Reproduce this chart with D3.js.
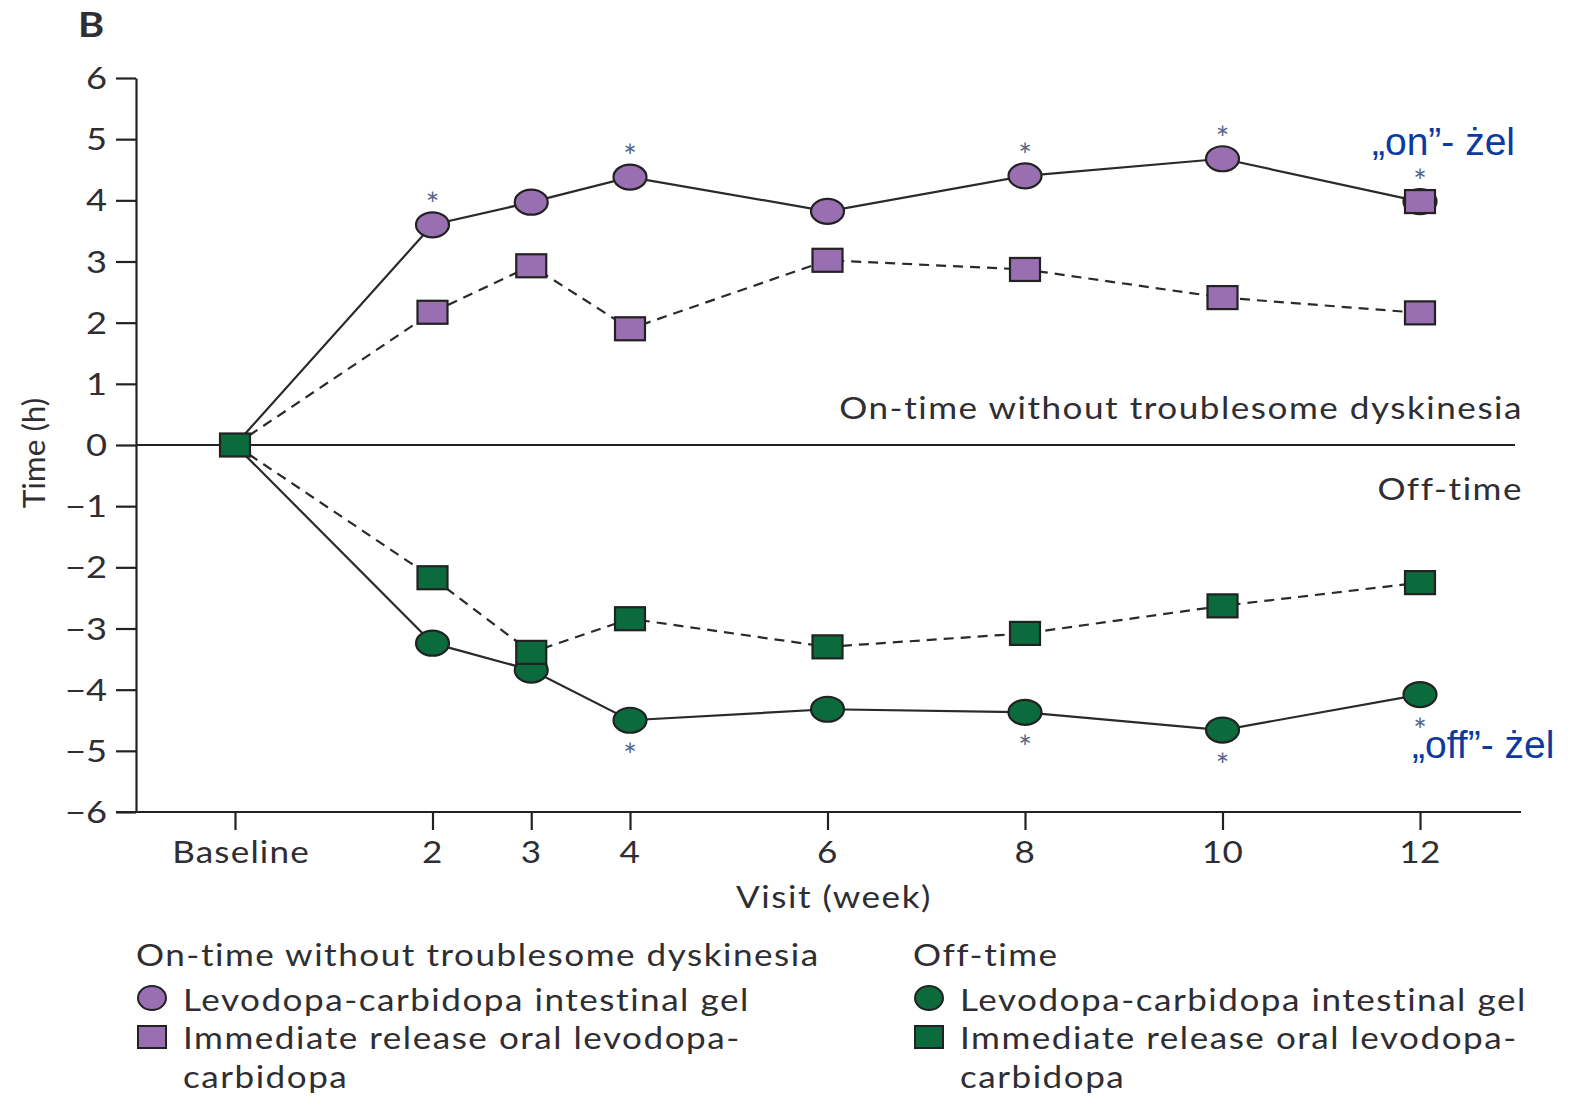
<!DOCTYPE html>
<html>
<head>
<meta charset="utf-8">
<script src="https://cdn.jsdelivr.net/npm/d3@7/dist/d3.min.js"></script>
<style>
  html, body { margin: 0; padding: 0; background: #fff; }
  svg { display: block; }
  text { font-family: Lato, "Open Sans", sans-serif; fill: #2e2e33; font-variant-ligatures: none; }
</style>
</head>
<body>
<svg id="chart" width="1577" height="1097"></svg>
<script>
// Visit weeks (0 = baseline) and their tick labels
const weeks = [0, 2, 3, 4, 6, 8, 10, 12];
const weekLabels = ["Baseline", "2", "3", "4", "6", "8", "10", "12"];
const yTicks = [6, 5, 4, 3, 2, 1, 0, -1, -2, -3, -4, -5, -6];

// Change from baseline (hours)
const onGel  = [0, 3.6, 3.97, 4.38, 3.82, 4.4, 4.68, 3.98];
const onOral = [0, 2.17, 2.93, 1.9, 3.02, 2.87, 2.41, 2.16];
const offGel  = [0, -3.24, -3.68, -4.5, -4.32, -4.37, -4.66, -4.08];
const offOral = [0, -2.17, -3.39, -2.84, -3.3, -3.08, -2.63, -2.25];

// Gel visits whose marker is overprinted with a square symbol
const onGelSquareWeeks = [12];

// Weeks with a significant difference (asterisks)
const onStars  = [2, 4, 8, 10, 12];
const offStars = [4, 8, 10, 12];

const PURPLE = "#9a6fb1";
const GREEN = "#0b6b3c";
const INK = "#222";
const SX = 1.17;     // horizontal stretch of the lettering
const TRACK = 1.3;   // letter spacing (px)

const svg = d3.select("#chart");

const x = d3.scaleLinear().domain([0, 12]).range([235, 1420]);
const y = d3.scaleLinear().domain([-6, 6]).range([812, 78]);

function label(g, txt, px, py, opts = {}) {
  const t = g.append("text")
    .attr("transform", `translate(${px},${py}) scale(${opts.sx || SX},1)`)
    .attr("text-anchor", opts.anchor || "start")
    .style("font-size", (opts.size || 30) + "px")
    .style("letter-spacing", (opts.track != null ? opts.track : TRACK) + "px")
    .text(txt);
  if (opts.weight) t.style("font-weight", opts.weight);
  if (opts.fill) t.style("fill", opts.fill);
  if (opts.family) t.style("font-family", opts.family);
  return t;
}

// Panel letter
label(svg, "B", 78, 37, { size: 34, weight: 700, track: 0 });

// Y axis
const yAxis = d3.axisLeft(y).tickValues(yTicks).tickSize(20).tickSizeOuter(0);
const gy = svg.append("g").attr("transform", "translate(136,0)").call(yAxis);
gy.select(".domain").attr("stroke", INK).attr("stroke-width", 2.2);
gy.selectAll(".tick line").attr("stroke", INK).attr("stroke-width", 2.2);
gy.selectAll(".tick text").remove();
yTicks.forEach(v => {
  label(svg, v < 0 ? "\u2212" + Math.abs(v) : String(v), 107, y(v) + 11, { anchor: "end", size: 31, track: 0 });
});
label(svg, "Time (h)", 0, 0, { anchor: "middle", size: 30, track: 0 })
  .attr("transform", `translate(45,453) rotate(-90) scale(1.05,1)`);

// X axis
svg.append("line").attr("x1", 116).attr("x2", 1521).attr("y1", y(-6)).attr("y2", y(-6))
  .attr("stroke", INK).attr("stroke-width", 2.2);
const xAxis = d3.axisBottom(x).tickValues(weeks).tickSize(18).tickSizeOuter(0).tickFormat(() => "");
const gx = svg.append("g").attr("transform", `translate(0,${y(-6)})`).call(xAxis);
gx.select(".domain").remove();
gx.selectAll(".tick line").attr("stroke", INK).attr("stroke-width", 2.2);
weeks.forEach((w, i) => label(svg, weekLabels[i], x(w) + (i === 0 ? 6 : 0), 863,
  { anchor: "middle", size: 30, track: i === 0 ? 1 : 0.4 }));
label(svg, "Visit (week)", 834, 908, { anchor: "middle", size: 30 });

// Zero reference line
svg.append("line").attr("x1", 136).attr("x2", 1515).attr("y1", y(0)).attr("y2", y(0))
  .attr("stroke", INK).attr("stroke-width", 1.8);
label(svg, "On-time without troublesome dyskinesia", 1523, 419, { anchor: "end", size: 30 });
label(svg, "Off-time", 1523, 500, { anchor: "end", size: 30 });

const line = d3.line().x((d, i) => x(weeks[i])).y(d => y(d));
const series = [
  { vals: onGel, dash: null },
  { vals: offGel, dash: null },
  { vals: onOral, dash: "10,7" },
  { vals: offOral, dash: "10,7" }
];
series.forEach(s => {
  svg.append("path").datum(s.vals).attr("d", line)
    .attr("fill", "none").attr("stroke", "#2a2a2a").attr("stroke-width", 2.2)
    .attr("stroke-dasharray", s.dash);
});

// Circle markers (gel), then square markers (oral) on top
function circles(vals, fill) {
  svg.append("g").selectAll("ellipse").data(vals.slice(1)).join("ellipse")
    .attr("cx", (d, i) => x(weeks[i + 1])).attr("cy", d => y(d))
    .attr("rx", 16.5).attr("ry", 12.5)
    .attr("fill", fill).attr("stroke", INK).attr("stroke-width", 2.2);
}
function squares(pts, fill) {
  svg.append("g").selectAll("rect").data(pts).join("rect")
    .attr("x", d => x(d.w) - 15).attr("y", d => y(d.v) - 11.5)
    .attr("width", 30).attr("height", 23)
    .attr("fill", fill).attr("stroke", INK).attr("stroke-width", 2.2);
}
const pts = (vals, from) => vals.slice(from).map((v, i) => ({ w: weeks[i + from], v }));
circles(onGel, PURPLE);
circles(offGel, GREEN);
squares(pts(onOral, 1), PURPLE);
squares(onGelSquareWeeks.map(w => ({ w, v: onGel[weeks.indexOf(w)] })), PURPLE);
squares(pts(offOral, 0), GREEN);

// Significance asterisks
const starFill = "#55658a";
onStars.forEach(w => {
  const v = onGel[weeks.indexOf(w)];
  label(svg, "*", x(w), y(v) - 9, { anchor: "middle", size: 32, fill: starFill, sx: 1, track: 0 });
});
offStars.forEach(w => {
  const v = offGel[weeks.indexOf(w)];
  label(svg, "*", x(w), y(v) + 47, { anchor: "middle", size: 32, fill: starFill, sx: 1, track: 0 });
});

// Blue annotations
const BLUE = "#0d3a9e";
const NARROW = "'Liberation Sans Narrow', 'Liberation Sans', Arial, sans-serif";
label(svg, "\u201Eon\u201D- \u017Cel", 1372, 155, { size: 39, fill: BLUE, sx: 1, track: 0, family: NARROW });
label(svg, "\u201Eoff\u201D- \u017Cel", 1412, 758, { size: 39, fill: BLUE, sx: 1, track: 0, family: NARROW });

// Legend
const legend = [
  { title: "On-time without troublesome dyskinesia", fill: PURPLE, lx: 136 },
  { title: "Off-time", fill: GREEN, lx: 913 }
];
legend.forEach(L => {
  label(svg, L.title, L.lx, 966, { size: 30 });
  svg.append("ellipse").attr("cx", L.lx + 16).attr("cy", 998).attr("rx", 14).attr("ry", 12)
    .attr("fill", L.fill).attr("stroke", INK).attr("stroke-width", 2);
  label(svg, "Levodopa-carbidopa intestinal gel", L.lx + 47, 1011, { size: 30 });
  svg.append("rect").attr("x", L.lx + 2).attr("y", 1026).attr("width", 28).attr("height", 22)
    .attr("fill", L.fill).attr("stroke", INK).attr("stroke-width", 2);
  label(svg, "Immediate release oral levodopa-", L.lx + 47, 1049, { size: 30 });
  label(svg, "carbidopa", L.lx + 47, 1088, { size: 30 });
});
</script>
</body>
</html>
